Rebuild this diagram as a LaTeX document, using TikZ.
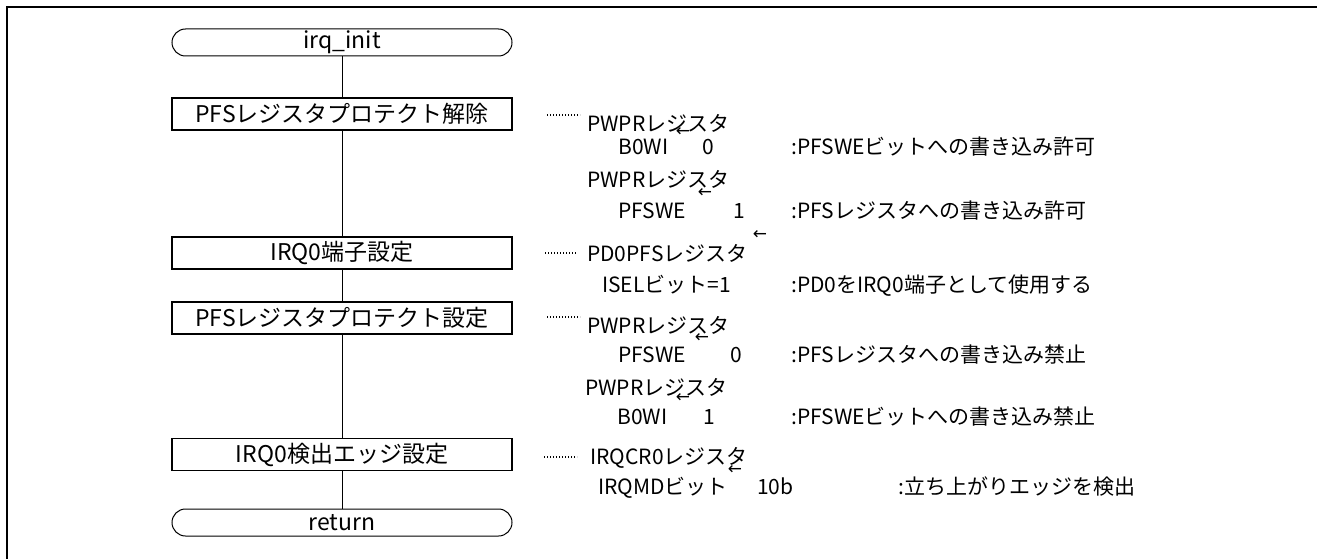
\documentclass[tikz,border=0pt]{standalone}
\usepackage{fontspec}
\setmainfont{Noto Sans CJK JP}
\newfontfamily\dejavu{DejaVu Sans}
\begin{document}
\begin{tikzpicture}[x=1pt,y=-1pt,
  term/.style={draw, line width=1pt, rounded corners=13.5pt, minimum width=340pt, minimum height=27pt, inner sep=0pt, font=\fontsize{23}{23}\selectfont},
  proc/.style={draw, line width=1.3pt, minimum width=340pt, minimum height=32pt, inner sep=0pt, font=\fontsize{23}{23}\selectfont},
  txt/.style={anchor=base west, inner sep=0pt, font=\fontsize{21}{21}\selectfont},
  lead/.style={line width=1.1pt, dash pattern=on 1.1pt off 1.9pt},
  larr/.style={inner sep=0pt, font=\dejavu\fontsize{17}{17}\selectfont},
  frame/.style={line width=2.5pt}]
\useasboundingbox (0,0) rectangle (1317,559);
% frame
\coordinate (fa) at (7,559);
\coordinate (fb) at (7,7);
\coordinate (fc) at (1317,7);
\draw[frame] (fa) -- (fb) -- (fc);
% flow
\node[term] (init) at (342,42.5) {irq\_init};
\node[proc] (b1) at (342,114) {PFSレジスタプロテクト解除};
\node[proc] (b2) at (342,253) {IRQ0端子設定};
\node[proc] (b3) at (342,318) {PFSレジスタプロテクト設定};
\node[proc] (b4) at (342,454.5) {IRQ0検出エッジ設定};
\node[term] (ret) at (342,522.5) {return};
\draw[line width=1pt] (init) -- (b1) -- (b2) -- (b3) -- (b4) -- (ret);
% leaders
\coordinate (l1a) at (547,115); \coordinate (l1b) at (580,115);
\coordinate (l2a) at (545,253); \coordinate (l2b) at (576,253);
\coordinate (l3a) at (547,317); \coordinate (l3b) at (580,317);
\coordinate (l4a) at (544,457); \coordinate (l4b) at (577,457);
\draw[lead] (l1a) -- (l1b);
\draw[lead] (l2a) -- (l2b);
\draw[lead] (l3a) -- (l3b);
\draw[lead] (l4a) -- (l4b);
% texts
\node[txt] (t1) at (587,131.5) {PWPRレジスタ};
\node[txt] (t2a) at (618,154.5) {B0WI};
\node[txt] (t2b) at (702,154.5) {0};
\node[txt] (t2c) at (791,154.5) {:PFSWEビットへの書き込み許可};
\node[txt] (t3) at (587,187.5) {PWPRレジスタ};
\node[txt] (t4a) at (618,218.5) {PFSWE};
\node[txt] (t4b) at (733,218.5) {1};
\node[txt] (t4c) at (791,218.5) {:PFSレジスタへの書き込み許可};
\node[txt] (t5) at (587,261.5) {PD0PFSレジスタ};
\node[txt] (t6a) at (602,292.5) {ISELビット=1};
\node[txt] (t6c) at (791,292.5) {:PD0をIRQ0端子として使用する};
\node[txt] (t7) at (587,333.5) {PWPRレジスタ};
\node[txt] (t8a) at (618,362.5) {PFSWE};
\node[txt] (t8b) at (730,362.5) {0};
\node[txt] (t8c) at (791,362.5) {:PFSレジスタへの書き込み禁止};
\node[txt] (t9) at (585,395.5) {PWPRレジスタ};
\node[txt] (t10a) at (617,424.5) {B0WI};
\node[txt] (t10b) at (703,424.5) {1};
\node[txt] (t10c) at (791,424.5) {:PFSWEビットへの書き込み禁止};
\node[txt] (t11) at (590,464.5) {IRQCR0レジスタ};
\node[txt] (t12a) at (598,494.5) {IRQMDビット};
\node[txt] (t12b) at (757,494.5) {10b};
\node[txt] (t12c) at (898,494.5) {:立ち上がりエッジを検出};
% stray arrows
\node[larr] (a1) at (683,132) {←};
\node[larr] (a2) at (705,193) {←};
\node[larr] (a3) at (760,235) {←};
\node[larr] (a4) at (702,338) {←};
\node[larr] (a5) at (683,398) {←};
\node[larr] (a6) at (735,470) {←};
\end{tikzpicture}
\end{document}
